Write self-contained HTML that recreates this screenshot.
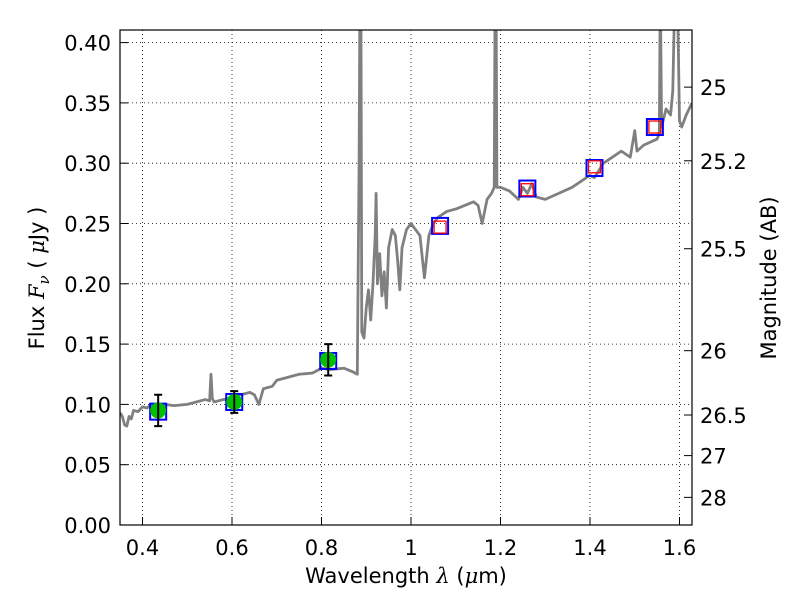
<!DOCTYPE html>
<html><head><meta charset="utf-8"><style>
body{margin:0;background:#fff;}
svg{display:block;font-family:"DejaVu Sans","Liberation Sans",sans-serif;}
</style></head><body>
<svg id="chart" width="800" height="600">
<defs><clipPath id="clip"><rect x="120" y="30" width="572" height="495"/></clipPath></defs>
<g id="grid"></g>
<g id="plot" clip-path="url(#clip)"></g>
<rect x="120" y="30" width="572" height="495" fill="none" stroke="#000" stroke-width="1.2"/>
<g id="axes"></g>
<text x="406" y="583" font-size="21" text-anchor="middle">Wavelength  <tspan font-style="italic" font-family="DejaVu Serif, serif">λ</tspan> (<tspan font-style="italic" font-family="DejaVu Serif, serif">μ</tspan>m)</text>
<text transform="translate(44,278) rotate(-90)" font-size="21" text-anchor="middle">Flux  <tspan font-style="italic" font-family="DejaVu Serif, serif">F<tspan font-size="15" dy="5">ν</tspan></tspan><tspan dy="-5">  ( </tspan><tspan font-style="italic" font-family="DejaVu Serif, serif">μ</tspan>Jy )</text>
<text transform="translate(776,278) rotate(-90)" font-size="21" text-anchor="middle">Magnitude (AB)</text>
</svg>
<script>
const xTicks=[0.4,0.6,0.8,1.0,1.2,1.4,1.6];
const xTickLabels=["0.4","0.6","0.8","1","1.2","1.4","1.6"];
const yTicks=[0,0.05,0.1,0.15,0.2,0.25,0.3,0.35,0.4];
const yTickLabels=["0.00","0.05","0.10","0.15","0.20","0.25","0.30","0.35","0.40"];
const magTicks=[25,25.2,25.5,26,26.5,27,28];
const magTickLabels=["25","25.2","25.5","26","26.5","27","28"];
const specWave=[0.35,0.355,0.36,0.365,0.37,0.375,0.38,0.39,0.4,0.41,0.42,0.43,0.45,0.47,0.5,0.52,0.54,0.55,0.553,0.556,0.56,0.58,0.6,0.62,0.64,0.65,0.66,0.67,0.69,0.7,0.72,0.75,0.78,0.8,0.82,0.85,0.87,0.88,0.884,0.886,0.888,0.89,0.895,0.9,0.905,0.91,0.915,0.92,0.922,0.925,0.93,0.935,0.94,0.945,0.95,0.958,0.965,0.97,0.975,0.98,0.99,1.0,1.01,1.02,1.03,1.04,1.05,1.06,1.08,1.1,1.12,1.14,1.15,1.159,1.17,1.18,1.186,1.188,1.19,1.192,1.2,1.22,1.24,1.25,1.26,1.27,1.28,1.3,1.33,1.36,1.4,1.41,1.43,1.45,1.47,1.49,1.5,1.505,1.52,1.55,1.555,1.557,1.56,1.57,1.58,1.585,1.59,1.595,1.6,1.605,1.615,1.628];
const specFlux=[0.093,0.09,0.083,0.082,0.09,0.088,0.095,0.094,0.098,0.097,0.1,0.099,0.1,0.099,0.1,0.102,0.104,0.103,0.125,0.105,0.102,0.104,0.105,0.108,0.11,0.108,0.1,0.113,0.115,0.12,0.122,0.125,0.126,0.13,0.129,0.13,0.127,0.125,0.3,0.45,0.45,0.16,0.155,0.18,0.195,0.17,0.2,0.24,0.275,0.2,0.225,0.19,0.21,0.18,0.23,0.245,0.24,0.22,0.195,0.23,0.245,0.25,0.245,0.24,0.205,0.24,0.25,0.255,0.26,0.262,0.265,0.268,0.265,0.25,0.27,0.275,0.28,0.45,0.45,0.28,0.28,0.277,0.27,0.28,0.275,0.283,0.272,0.27,0.275,0.28,0.29,0.288,0.3,0.305,0.31,0.305,0.327,0.31,0.315,0.32,0.325,0.45,0.33,0.345,0.34,0.36,0.45,0.45,0.335,0.33,0.34,0.35];
const photWave=[0.435,0.605,0.815];
const photFlux=[0.095,0.102,0.137];
const photErr=[0.013,0.009,0.013];
const modelWave=[0.435,0.605,0.815,1.065,1.26,1.41,1.545];
const modelFlux=[0.094,0.102,0.136,0.248,0.279,0.296,0.330];
const nirWave=[1.065,1.26,1.41,1.545];
const nirFlux=[0.247,0.278,0.297,0.330];

const NS="http://www.w3.org/2000/svg";
const X=v=>142.5+(v-0.4)*447.5;
const Y=v=>525-v*1206;
const magY=m=>Y(Math.pow(10,(23.9-m)/2.5));
function mk(parent,tag,attrs){const e=document.createElementNS(NS,tag);for(const k in attrs)e.setAttribute(k,attrs[k]);document.getElementById(parent).appendChild(e);return e;}

xTicks.forEach((v,i)=>{
 let g=mk('grid','line',{x1:X(v),x2:X(v),y1:30,y2:525,stroke:'#000','stroke-width':0.8,'stroke-dasharray':'1,3'});
 
 
 let t=mk('axes','line',{x1:X(v),x2:X(v),y1:525,y2:517,stroke:'#000'});
 
 
 let l=mk('axes','text',{x:X(v),y:555,'font-size':21,'text-anchor':'middle'});
 l.textContent=xTickLabels[i];
 
 
});
yTicks.forEach((v,i)=>{
 if(v>0){let g=mk('grid','line',{x1:120,x2:692,y1:Y(v),y2:Y(v),stroke:'#000','stroke-width':0.8,'stroke-dasharray':'1,3'});
 
 }
 let t=mk('axes','line',{x1:120,x2:128,y1:Y(v),y2:Y(v),stroke:'#000'});
 
 
 let l=mk('axes','text',{x:111,y:Y(v)+8,'font-size':21,'text-anchor':'end'});
 l.textContent=yTickLabels[i];
 
 
});
magTicks.forEach((m,i)=>{
 let t=mk('axes','line',{x1:684,x2:692,y1:magY(m),y2:magY(m),stroke:'#000'});
 
 
 let l=mk('axes','text',{x:700,y:magY(m)+8,'font-size':21});
 l.textContent=magTickLabels[i];
 
 
});
let sp=mk('plot','polyline',{points:specWave.map((w,i)=>X(w)+','+Y(specFlux[i])).join(' '),fill:'none',stroke:'#808080','stroke-width':2.8,'stroke-linejoin':'round'});


modelWave.forEach((w,i)=>{
 let r=mk('plot','rect',{x:X(w)-8,y:Y(modelFlux[i])-8,width:16,height:16,fill:'none',stroke:'#0000ff','stroke-width':2});
 
 
});
nirWave.forEach((w,i)=>{
 let r=mk('plot','rect',{x:X(w)-6,y:Y(nirFlux[i])-6,width:12,height:12,fill:'none',stroke:'#ff0000','stroke-width':1.3});
 
 
});
photWave.forEach((w,i)=>{
 let c=mk('plot','circle',{cx:X(w),cy:Y(photFlux[i]),r:8,fill:'#00c000'});
 
 
});
photWave.forEach((w,i)=>{
 const x=X(w),y1=Y(photFlux[i]-photErr[i]),y2=Y(photFlux[i]+photErr[i]);
 let e=mk('plot','path',{d:`M${x},${y1}V${y2}M${x-4},${y1}H${x+4}M${x-4},${y2}H${x+4}`,stroke:'#000','stroke-width':2,fill:'none'});
 
 
});
</script>
</body></html>
